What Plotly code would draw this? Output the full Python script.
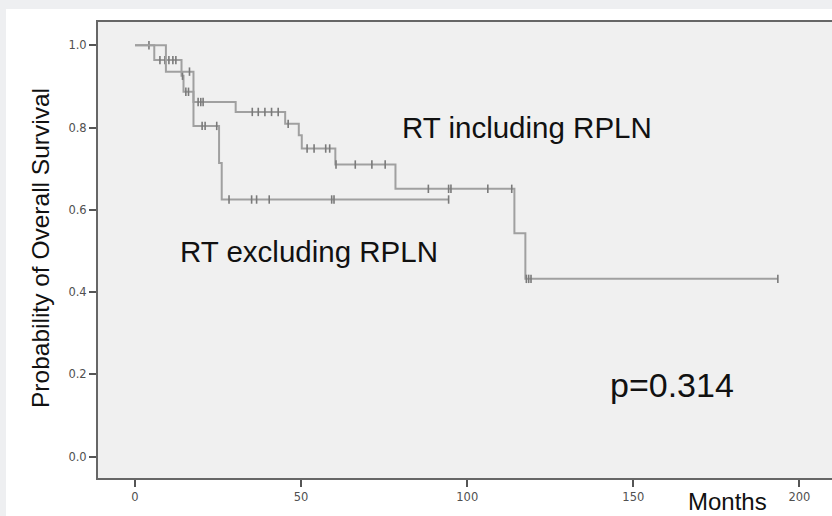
import plotly.graph_objects as go

# ---- data (months, survival probability) ----
incl_event_t = [0, 5.8, 14.0, 14.6, 17.6, 30.3, 45.2, 49.3, 50.2, 60.3, 78.4, 114.2, 117.5]
incl_event_s = [1.0, 0.964, 0.926, 0.887, 0.862, 0.838, 0.809, 0.781, 0.749, 0.710, 0.651, 0.543, 0.432]
incl_end = 193.5
incl_censor = [4.2, 7.5, 9.0, 10.2, 11.4, 12.3, 14.3, 15.3, 16.1, 19.0, 19.8, 20.5,
               35.3, 37.1, 39.1, 41.1, 43.1, 46.1, 51.8, 53.9, 57.4, 58.6, 60.5,
               66.3, 71.3, 75.3, 88.3, 94.4, 95.1, 106.2, 113.4, 117.8, 118.5, 119.2, 193.5]

excl_event_t = [0, 9.3, 17.6, 25.3, 26.1]
excl_event_s = [1.0, 0.936, 0.804, 0.714, 0.625]
excl_end = 94.4
excl_censor = [16.4, 20.2, 21.1, 24.6, 28.3, 35.1, 36.6, 40.4, 59.2, 59.9, 94.4]

x_ticks = [0, 50, 100, 150, 200]
y_ticks = [0.0, 0.2, 0.4, 0.6, 0.8, 1.0]

LINE = "#a0a0a0"
MARK = "#7a7a7a"


def step_value(ts, ss, t):
    v = ss[0]
    for ti, si in zip(ts, ss):
        if ti <= t:
            v = si
    return v


fig = go.Figure()
for name, et, es, end, cens in [
    ("RT including RPLN", incl_event_t, incl_event_s, incl_end, incl_censor),
    ("RT excluding RPLN", excl_event_t, excl_event_s, excl_end, excl_censor),
]:
    xs = list(et) + [end]
    ys = list(es) + [es[-1]]
    fig.add_trace(go.Scatter(x=xs, y=ys, mode="lines", line=dict(color=LINE, width=2, shape="hv"),
                             showlegend=False, hoverinfo="skip", name=name))
    fig.add_trace(go.Scatter(x=cens, y=[step_value(et, es, c) for c in cens], mode="markers",
                             marker=dict(symbol="line-ns", size=6, line=dict(color=MARK, width=1.6)),
                             showlegend=False, name=name + " censored"))

W, H = 832, 516
L, R, T, B = 98, 0, 22, 38
pw, ph = W - L - R, H - T - B


def px(xp):
    return (xp - L) / pw


def py(yp):
    return (H - B - yp) / ph


FONT = "Liberation Sans, Arial, sans-serif"
ann = [
    dict(text="RT including RPLN", x=px(527), y=py(127), size=29.5, font=FONT),
    dict(text="RT excluding RPLN", x=px(309), y=py(251), size=29.5, font=FONT),
    dict(text="p=0.314", x=px(672), y=py(385), size=34, font=FONT),
    dict(text="Months", x=px(727), y=py(501), size=24, font=FONT),
]
annotations = [dict(text=a["text"], x=a["x"], y=a["y"], xref="paper", yref="paper", showarrow=False,
                    xanchor="center", yanchor="middle", font=dict(size=a["size"], color="#111", family=a["font"]))
               for a in ann]
annotations.append(dict(text="Probability of Overall Survival", x=px(40), y=py(248), xref="paper", yref="paper",
                        showarrow=False, textangle=-90, xanchor="center", yanchor="middle",
                        font=dict(size=24.5, color="#111", family=FONT)))

shapes = [
    dict(type="rect", xref="paper", yref="paper", x0=px(0), x1=px(W), y0=py(0), y1=py(9),
         fillcolor="#eeeff1", line=dict(width=0), layer="below"),
    dict(type="rect", xref="paper", yref="paper", x0=px(0), x1=px(6), y0=py(0), y1=py(H),
         fillcolor="#eeeff1", line=dict(width=0), layer="below"),
]

TICKFONT = dict(size=11.5, color="#505050", family="DejaVu Sans, Liberation Sans, sans-serif")
fig.update_layout(
    width=W, height=H, margin=dict(l=L, r=R, t=T, b=B, pad=0),
    paper_bgcolor="white", plot_bgcolor="#f0f0f0",
    annotations=annotations, shapes=shapes,
    xaxis=dict(range=[-11.14, 209.8], tickvals=x_ticks, ticks="outside", ticklen=7, tickwidth=1.5,
               tickcolor="#555", showline=True, mirror=True, linecolor="#666", linewidth=2,
               showgrid=False, zeroline=False, tickfont=TICKFONT),
    yaxis=dict(range=[-0.0523, 1.0567], tickvals=y_ticks, tickformat=".1f", ticks="outside", ticklen=7,
               tickwidth=1.5, tickcolor="#555", showline=True, mirror=False, linecolor="#666", linewidth=2,
               showgrid=False, zeroline=False, tickfont=TICKFONT),
)

fig.write_html("out.html", config={"displayModeBar": False},
               post_script="document.body.style.margin='0';document.body.style.overflow='hidden';")
